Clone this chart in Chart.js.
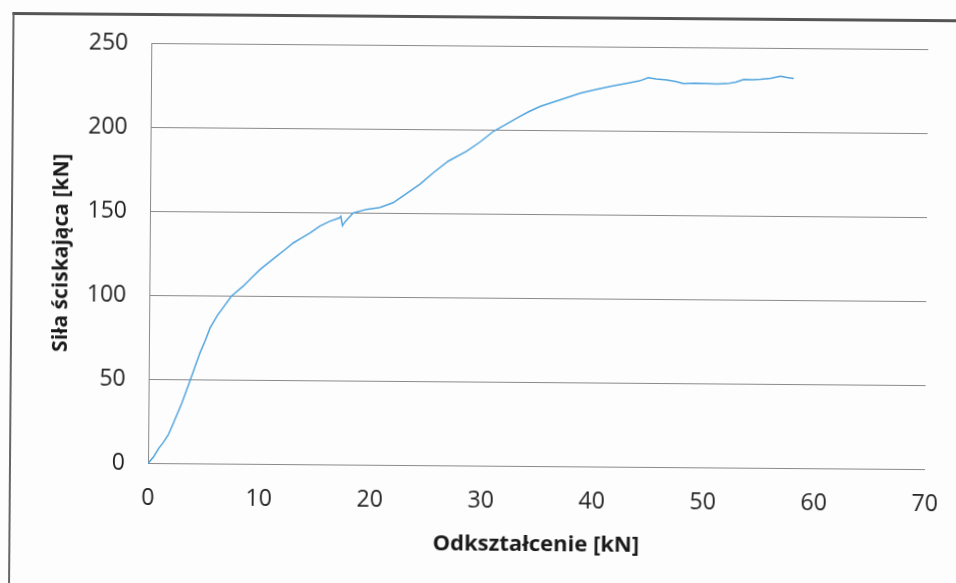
<!DOCTYPE html>
<html>
<head>
<meta charset="utf-8">
<script src="https://cdn.jsdelivr.net/npm/chart.js@4"></script>
<style>
  html, body { margin: 0; padding: 0; background: #fdfdfd; overflow: hidden; }
  #wrap {
    position: relative; width: 956px; height: 583px;
    transform-origin: 148px 463.5px; transform: rotate(0.45deg);
  }
  #frame {
    position: absolute; left: 9px; top: 13px; width: 1000px; height: 700px;
    border-top: 3px solid #555; border-left: 2px solid #666;
  }
  canvas { position: absolute; left: 0; top: 0; }
</style>
</head>
<body>
<div id="wrap">
  <div id="frame"></div>
  <canvas id="chart" width="956" height="583"></canvas>
</div>
<script>
// odczyt z wykresu: odkształcenie (oś X) i siła (oś Y)
const deformation = [
  0, 0.5, 0.95, 1.3, 1.8, 2.25, 3.0, 3.7, 4.6, 5.1, 5.5, 6.15, 6.7, 7.4, 8.45, 9.2, 9.96,
  10.7, 11.45, 12.2, 12.94, 13.7, 14.44, 15.3, 16.2, 17.05, 17.2, 17.35, 17.6, 18.3,
  19.5, 20.7, 21.9, 22.8, 24.3, 25.5, 26.85, 28.5, 29.7, 30.9, 32.0, 33.0, 34.0, 35.1,
  36.9, 38.7, 40.0, 41.4, 42.9, 44.0, 44.8, 45.5, 46.5, 47.3, 48.0, 49.0, 50.1, 51.0,
  51.9, 52.7, 53.4, 54.2, 54.9, 55.8, 56.7, 57.3, 57.9
];
const force = [
  0, 4, 9, 12, 17, 24, 36, 49, 66, 74, 81, 88.5, 93.5, 100, 106, 111, 116,
  120, 124, 128, 132, 135, 138, 142, 145, 147, 148, 142.5, 145, 150,
  152.3, 153.4, 156.4, 160.5, 167.5, 174.4, 181.4, 187.4, 193, 199.4, 203.5, 207.4, 211, 214.4,
  218.5, 222.5, 224.5, 226.6, 228.6, 230, 232, 231.2, 230.7, 229.8, 228.6, 228.8, 228.7, 228.5,
  228.8, 229.8, 231.4, 231.2, 231.5, 232.2, 233.5, 232.8, 232.2
];
const xTicks = [0, 10, 20, 30, 40, 50, 60, 70];
const yTicks = [0, 50, 100, 150, 200, 250];

const points = deformation.map((x, i) => ({ x, y: force[i] }));
const tickFont = { family: 'Open Sans', size: 23 };

new Chart(document.getElementById('chart'), {
  type: 'scatter',
  data: {
    datasets: [{
      data: points,
      showLine: true,
      borderColor: 'rgb(82, 165, 222)',
      borderWidth: 1.5,
      pointRadius: 0,
      tension: 0,
    }],
  },
  options: {
    responsive: false,
    animation: false,
    layout: { padding: { top: 43.5, right: 31, left: 0, bottom: 0 } },
    plugins: { legend: { display: false }, tooltip: { enabled: false } },
    scales: {
      x: {
        type: 'linear',
        min: xTicks[0],
        max: xTicks[xTicks.length - 1],
        afterBuildTicks: (s) => { s.ticks = xTicks.map((v) => ({ value: v })); },
        afterFit: (s) => { s.height = 119.5; },
        grid: { display: false },
        border: { display: false },
        ticks: { color: '#222', font: tickFont, padding: 13, maxRotation: 0 },
        title: {
          display: true, text: 'Odkształcenie [kN]', color: '#1a1a1a',
          font: { family: 'Open Sans', size: 22, weight: 'bold' },
          padding: { top: 0, bottom: 28 },
        },
      },
      y: {
        min: yTicks[0],
        max: yTicks[yTicks.length - 1],
        afterBuildTicks: (s) => { s.ticks = yTicks.map((v) => ({ value: v })); },
        afterFit: (s) => { s.width = 148; },
        grid: { color: '#8a8a8a', lineWidth: 1, drawTicks: false },
        border: { display: true, color: '#8a8a8a', width: 1 },
        ticks: { color: '#222', font: tickFont, padding: 23 },
        title: {
          display: true, text: 'Siła ściskająca [kN]', color: '#1a1a1a',
          font: { family: 'Open Sans', size: 21, weight: 'bold' },
          padding: { top: 47, bottom: 0 },
        },
      },
    },
  },
});
</script>
</body>
</html>
